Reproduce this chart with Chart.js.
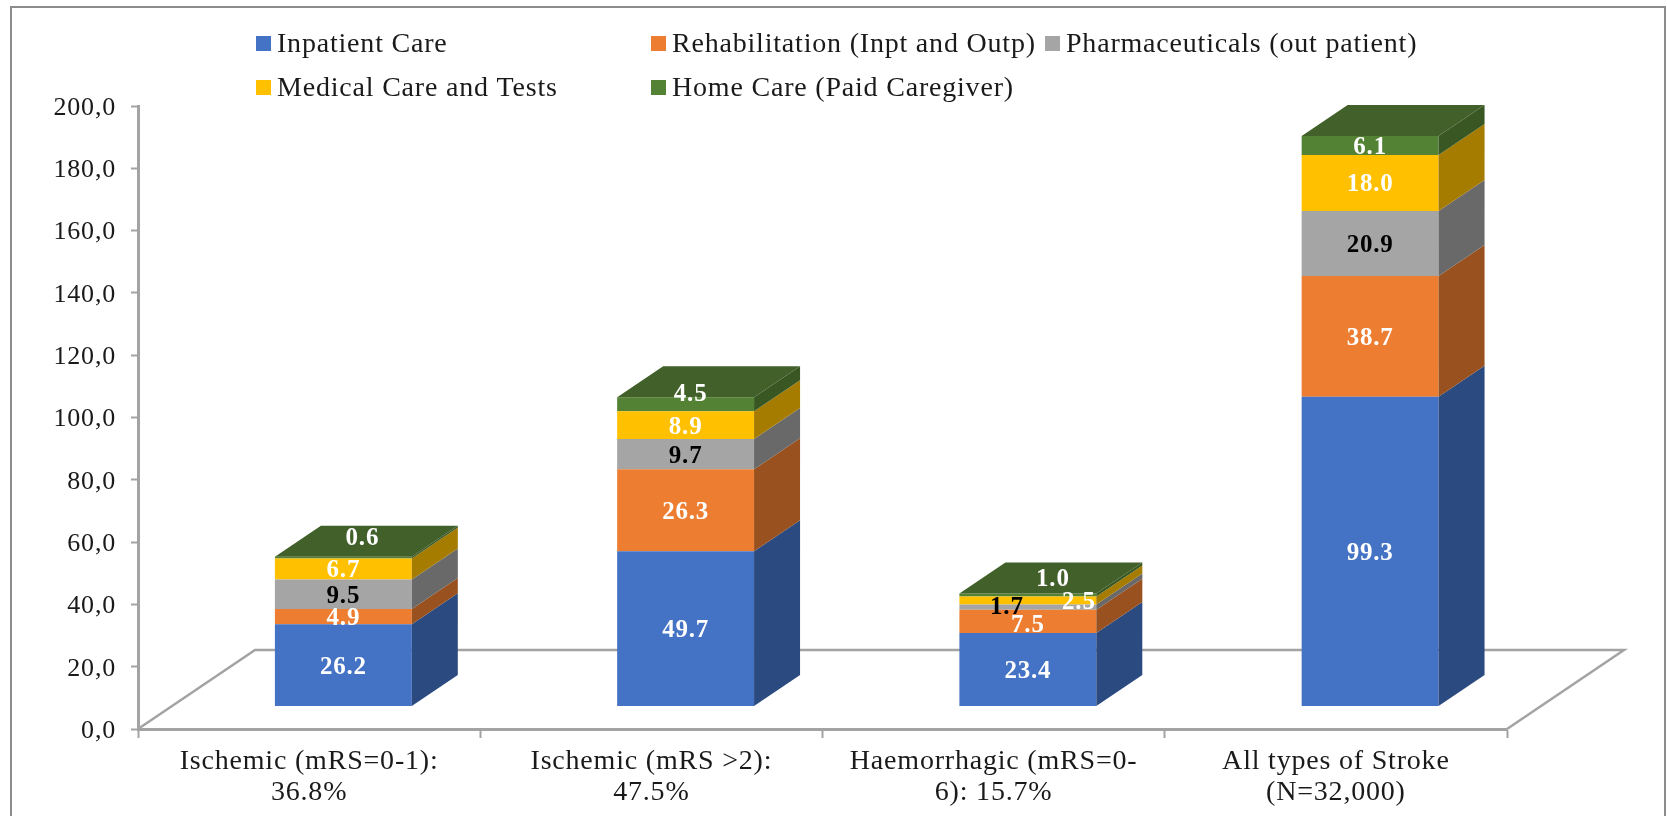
<!DOCTYPE html>
<html>
<head>
<meta charset="utf-8">
<style>
  html, body { margin: 0; padding: 0; background: #fff; overflow: hidden; }
  #wrap { position: relative; width: 1667px; height: 816px; }
  #frame { position: absolute; left: 10px; top: 6px; right: 1px; bottom: -5px; border: 2px solid #8c8c8c; }
</style>
</head>
<body>
<div id="wrap">
  <div id="frame"></div>
  <canvas id="chart" width="1667" height="816"></canvas>
</div>
<script src="https://cdn.jsdelivr.net/npm/chart.js@4/dist/chart.umd.min.js"></script>
<script>
const categories = [
  ["Ischemic (mRS=0-1):", "36.8%"],
  ["Ischemic (mRS >2):", "47.5%"],
  ["Haemorrhagic (mRS=0-", "6): 15.7%"],
  ["All types of Stroke", "(N=32,000)"],
];
const yTickLabels = ["0,0", "20,0", "40,0", "60,0", "80,0", "100,0", "120,0", "140,0", "160,0", "180,0", "200,0"];

const inpatientCare = [26.2, 49.7, 23.4, 99.3];
const rehabilitation = [4.9, 26.3, 7.5, 38.7];
const pharmaceuticals = [9.5, 9.7, 1.7, 20.9];
const medicalCare = [6.7, 8.9, 2.5, 18.0];
const homeCare = [0.6, 4.5, 1.0, 6.1];

const FONT = '"Liberation Serif", "Times New Roman", serif';
const TEXT = "#1a1a1a";
const AXIS = "#a3a3a3";
// the bars sit on a floor in front of the axis, so they get their own hidden scales
const BAR_DEPTH = { x: 46, y: -31 };
const FLOOR_DEPTH = { x: 117, y: -79 };

const seriesStyle = [
  { label: "Inpatient Care", values: inpatientCare, front: "#4472c4", side: "#2a4a80", text: "#fff" },
  { label: "Rehabilitation (Inpt and Outp)", values: rehabilitation, front: "#ed7d31", side: "#99521f", text: "#fff" },
  { label: "Pharmaceuticals (out patient)", values: pharmaceuticals, front: "#a5a5a5", side: "#696969", text: "#000" },
  { label: "Medical Care and Tests", values: medicalCare, front: "#ffc000", side: "#a67c00", text: "#fff" },
  { label: "Home Care (Paid Caregiver)", values: homeCare, front: "#548235", side: "#385723", text: "#fff" },
];

// hand moved data labels in the original, keyed by dataset then bar
const labelNudge = {
  "4-0": [19, -21], "4-1": [5, -12], "4-2": [25, -18],
  "2-2": [-21, -2], "3-2": [51, 0], "1-2": [0, 2],
};

const legendSlots = [
  { x: 256, y: 43 }, { x: 651, y: 43 }, { x: 1045, y: 43 },
  { x: 256, y: 87 }, { x: 651, y: 87 },
];

const floorPlugin = {
  id: "floor",
  beforeDraw(chart) {
    chart.ctx.letterSpacing = "0.8px";
  },
  beforeDatasetsDraw(chart) {
    const { ctx, chartArea: a } = chart;
    ctx.save();
    ctx.strokeStyle = AXIS;
    ctx.lineWidth = 2.5;
    ctx.beginPath();
    ctx.moveTo(a.left, a.bottom);
    ctx.lineTo(a.left + FLOOR_DEPTH.x, a.bottom + FLOOR_DEPTH.y);
    ctx.lineTo(a.right + FLOOR_DEPTH.x, a.bottom + FLOOR_DEPTH.y);
    ctx.lineTo(a.right, a.bottom);
    ctx.stroke();
    ctx.restore();
  },
};

const boxPlugin = {
  id: "box",
  afterDatasetsDraw(chart) {
    const ctx = chart.ctx;
    const last = chart.data.datasets.length - 1;
    chart.data.datasets.forEach((ds, i) => {
      chart.getDatasetMeta(i).data.forEach((bar) => {
        const right = bar.x + bar.width / 2;
        const left = bar.x - bar.width / 2;
        ctx.fillStyle = seriesStyle[i].side;
        ctx.beginPath();
        ctx.moveTo(right, bar.y);
        ctx.lineTo(right + BAR_DEPTH.x, bar.y + BAR_DEPTH.y);
        ctx.lineTo(right + BAR_DEPTH.x, bar.base + BAR_DEPTH.y);
        ctx.lineTo(right, bar.base);
        ctx.closePath();
        ctx.fill();
        if (i === last) {
          ctx.fillStyle = "#42602a";
          ctx.beginPath();
          ctx.moveTo(left, bar.y);
          ctx.lineTo(left + BAR_DEPTH.x, bar.y + BAR_DEPTH.y);
          ctx.lineTo(right + BAR_DEPTH.x, bar.y + BAR_DEPTH.y);
          ctx.lineTo(right, bar.y);
          ctx.closePath();
          ctx.fill();
        }
      });
    });
  },
  afterDraw(chart) {
    const ctx = chart.ctx;
    ctx.save();
    ctx.textAlign = "center";
    ctx.textBaseline = "middle";
    ctx.font = "bold 25px " + FONT;
    chart.data.datasets.forEach((ds, i) => {
      chart.getDatasetMeta(i).data.forEach((bar, j) => {
        const nudge = labelNudge[i + "-" + j] || [0, 0];
        ctx.fillStyle = seriesStyle[i].text;
        ctx.fillText(seriesStyle[i].values[j].toFixed(1), bar.x + nudge[0], (bar.y + bar.base) / 2 + nudge[1] + 2);
      });
    });

    ctx.font = "28px " + FONT;
    ctx.textAlign = "left";
    seriesStyle.forEach((s, i) => {
      const slot = legendSlots[i];
      ctx.fillStyle = s.front;
      ctx.fillRect(slot.x, slot.y - 7, 15, 15);
      ctx.fillStyle = TEXT;
      ctx.fillText(s.label, slot.x + 21, slot.y + 2);
    });
    ctx.restore();
  },
};

new Chart(document.getElementById("chart"), {
  type: "bar",
  data: {
    labels: categories,
    datasets: seriesStyle.map((s) => ({
      label: s.label,
      data: s.values.map((v, i) => ({ x: i, y: v })),
      backgroundColor: s.front,
      xAxisID: "xBars",
      yAxisID: "yBars",
      categoryPercentage: 0.4,
      barPercentage: 1,
    })),
  },
  options: {
    responsive: false,
    animation: false,
    layout: { padding: { top: 106, right: 160, left: 0, bottom: 0 } },
    plugins: { legend: { display: false }, tooltip: { enabled: false } },
    scales: {
      x: {
        type: "category",
        position: "bottom",
        grid: { display: true, drawOnChartArea: false, offset: true, color: AXIS, tickLength: 9, tickWidth: 2 },
        border: { color: AXIS, width: 3 },
        ticks: { color: TEXT, font: { family: FONT, size: 28, lineHeight: 1.08 }, maxRotation: 0, autoSkip: false, padding: 9 },
        afterFit(scale) { scale.height = 87; },
      },
      y: {
        type: "linear",
        position: "left",
        min: 0,
        max: 200,
        grid: { display: true, drawOnChartArea: false, color: AXIS, tickLength: 7, tickWidth: 2 },
        border: { color: AXIS, width: 3 },
        ticks: {
          stepSize: 20,
          color: TEXT,
          padding: 15,
          labelOffset: 2,
          font: { family: FONT, size: 26 },
          callback: (value, index) => yTickLabels[index],
        },
        afterFit(scale) { scale.width = 138; },
      },
      xBars: {
        type: "linear",
        display: false,
        stacked: true,
        offset: false,
        min: -0.6,
        max: 3.4,
        ticks: { stepSize: 1, includeBounds: false },
      },
      yBars: { type: "linear", display: false, stacked: true, min: -7.4, max: 192.6 },
    },
  },
  plugins: [floorPlugin, boxPlugin],
});
</script>
</body>
</html>
